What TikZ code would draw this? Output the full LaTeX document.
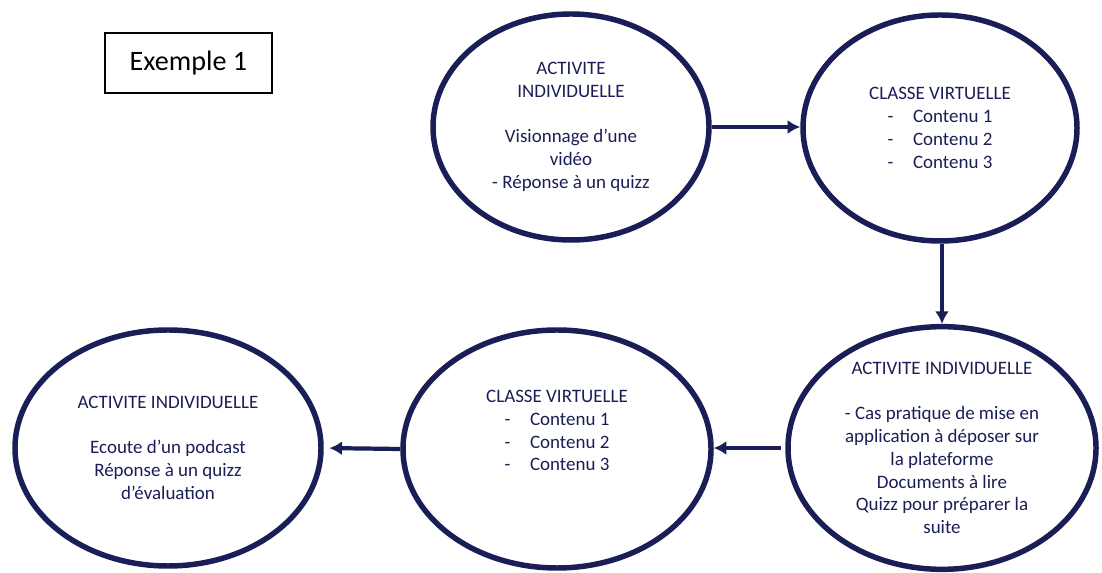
\documentclass[tikz,border=0pt]{standalone}
\usepackage{fontspec}
\setmainfont{Carlito}
\usepackage{tikz}
\usetikzlibrary{shapes.geometric}
\usetikzlibrary{arrows.meta}
\definecolor{navy}{RGB}{26,30,86}

\begin{document}
\begin{tikzpicture}[
  bulle/.style={draw=navy,ellipse,line width=3.9pt,text=navy,align=center,inner sep=0pt,font=\fontsize{13.5}{16.2}\selectfont},
  flow/.style={draw=navy,line width=3pt,-{Latex[length=9pt,width=10pt]}}
]
  \useasboundingbox (0,0) rectangle (27.55,14.325);

  \node[draw=black,line width=1pt,minimum width=4.175cm,minimum height=1.5cm,font=\fontsize{20}{24}\selectfont] (titre) at (4.71,12.75) {Exemple 1};

  \node[bulle,minimum width=6.9cm,minimum height=5.65cm] (act1) at (14.275,11.15) {ACTIVITE\\INDIVIDUELLE\\[16pt]Visionnage d’une\\vidéo\\- Réponse à un quizz};
  \node[bulle,minimum width=6.85cm,minimum height=5.65cm] (cv1) at (23.5,11.125) {CLASSE VIRTUELLE\\-\hspace{14pt}Contenu 1\\-\hspace{14pt}Contenu 2\\-\hspace{14pt}Contenu 3};
  \node[bulle,minimum width=7.7cm,minimum height=5.9cm] (act2) at (23.55,3.125) {ACTIVITE INDIVIDUELLE\\[16pt]- Cas pratique de mise en\\application à déposer sur\\la plateforme\\Documents à lire\\Quizz pour préparer la\\suite};
  \node[bulle,minimum width=7.7cm,minimum height=5.95cm] (cv2) at (13.925,3.1) {CLASSE VIRTUELLE\\-\hspace{14pt}Contenu 1\\-\hspace{14pt}Contenu 2\\-\hspace{14pt}Contenu 3\\[10pt]};
  \node[bulle,minimum width=7.65cm,minimum height=5.9cm] (act3) at (4.2,3.125) {ACTIVITE INDIVIDUELLE\\[16pt]Ecoute d’un podcast\\Réponse à un quizz\\d’évaluation};

  \draw[flow] (act1.east) -- (act1.east -| cv1.west);
  \draw[flow] (act2.north |- cv1.south) -- (act2.north);
  \draw[flow,shorten <=3pt] (act2.west) -- (act2.west -| cv2.east);
  \draw[flow,shorten >=4pt] (cv2.west) -- (act3.east);
\end{tikzpicture}
\end{document}
